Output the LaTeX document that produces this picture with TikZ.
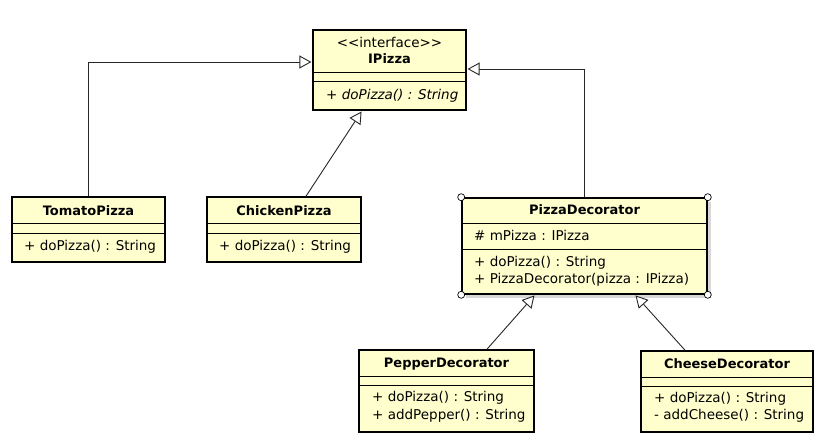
\documentclass[tikz,border=0pt]{standalone}
\usepackage{fontspec}
\setmainfont{DejaVu Sans}
\usetikzlibrary{arrows.meta,calc,fit,shadows}
\definecolor{classfill}{RGB}{255,255,206}
\def\umlfont{\fontsize{13.5}{16}\selectfont}
\def\umlbold{\fontsize{13}{15}\selectfont\bfseries}

\begin{document}
\begin{tikzpicture}[x=1pt,y=-1pt,
    inherit/.style={draw=black!85, line width=0.9pt, shorten >=0.8pt,
      -{Triangle[open,length=12pt,width=13pt,fill=white]}}]
    \tikzstyle{classbox}=[draw, line width=1.6pt, fill=classfill, inner sep=0pt]
    \tikzstyle{divider}=[line width=0.7pt]
    \tikzstyle{classname}=[font=\umlbold, inner sep=0pt, text height=9.5pt, text depth=2.5pt]
    \tikzstyle{member}=[font=\umlfont, anchor=west, inner sep=0pt, text height=10pt, text depth=2.8pt]
    \tikzstyle{handle}=[circle, draw, fill=white, line width=0.7pt, minimum size=7pt, inner sep=0pt]

    \useasboundingbox (0,0) rectangle (825,444);

    %%% DRAW THE CLASSES
    \foreach \name/\xa/\ya/\xb/\yb/\da/\db in {ipizza/313/30/466/110/72/81,
        tomato/12/197/165/262/223/233, chicken/207/197/361/262/223/233,
        pepper/359/350/534/432/376/385, cheese/641/351/813/432/377/386}{
        \node[classbox, fit={(\xa,\ya) (\xb,\yb)}] (\name) {};
        \draw[divider] (\xa,\da) -- (\xb,\da) (\xa,\db) -- (\xb,\db);
    }
    \node[classbox, drop shadow={shadow xshift=4pt, shadow yshift=-4pt, fill=black!30},
        fit={(462,198) (707,294)}] (pd) {};
    \draw[divider] (462,223) -- (707,223) (462,249) -- (707,249);
    \foreach \corner in {north west, north east, south west, south east}
        \node[handle] (pd-\corner) at (pd.\corner) {};

    %%% DRAW THE TEXTS
    \node[member, anchor=center] (ipizza-st) at (389.5,44) {<{}<interface>{}>};
    \node[classname] (ipizza-name) at (389.5,60) {IPizza};
    \node[member, font=\umlfont\itshape] (ipizza-m1) at (326,96) {+ doPizza() : String};

    \node[classname] (tomato-name) at (88.5,212) {TomatoPizza};
    \node[member] (tomato-m1) at (24,247) {+ doPizza() : String};

    \node[classname] (chicken-name) at (284,212) {ChickenPizza};
    \node[member] (chicken-m1) at (219,247) {+ doPizza() : String};

    \node[classname] (pd-name) at (584.5,211) {PizzaDecorator};
    \node[member] (pd-a1) at (474,237) {\# mPizza : IPizza};
    \node[member] (pd-m1) at (474,263) {+ doPizza() : String};
    \node[member] (pd-m2) at (474,280) {+ PizzaDecorator(pizza : IPizza)};

    \node[classname] (pepper-name) at (446.5,364) {PepperDecorator};
    \node[member] (pepper-m1) at (372,398) {+ doPizza() : String};
    \node[member] (pepper-m2) at (372,416) {+ addPepper() : String};

    \node[classname] (cheese-name) at (727,365) {CheeseDecorator};
    \node[member] (cheese-m1) at (654,399) {+ doPizza() : String};
    \node[member] (cheese-m2) at (654,416) {- addCheese() : String};

    %%% DRAW THE PATHS
    \draw[inherit] (tomato.north) |- ($(ipizza.west)+(0,-8)$);
    \draw[inherit] ($(chicken.north)+(22,0)$) -- ($(ipizza.south)+(-27.5,0)$);
    \draw[inherit] (pd.north) |- ($(ipizza.east)+(0,-1)$);
    \draw[inherit] ($(pepper.north)+(40.5,0)$) -- ($(pd.south)+(-49.5,0)$);
    \draw[inherit] ($(cheese.north)+(-42,0)$) -- ($(pd.south)+(50.5,0)$);

\end{tikzpicture}
\end{document}
